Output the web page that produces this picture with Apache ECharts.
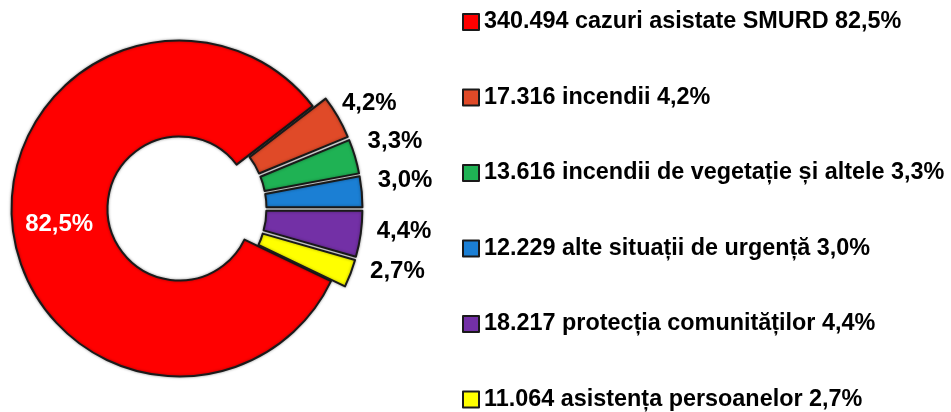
<!DOCTYPE html>
<html lang="ro">
<head>
    <meta charset="UTF-8">
    <title>Intervenții</title>
    <style>
        html, body { margin: 0; padding: 0; background: #fff; }
        #chart { width: 951px; height: 412px; }
    </style>
</head>
<body>
<div id="chart"></div>
<script src="https://cdn.jsdelivr.net/npm/echarts@6/dist/echarts.min.js"></script>
<script>
    // date
    var categorii = [
        'cazuri asistate SMURD',
        'incendii',
        'incendii de vegetație și altele',
        'alte situații de urgență',
        'protecția comunităților',
        'asistența persoanelor'
    ];
    var valori = [340494, 17316, 13616, 12229, 18217, 11064];

    // stil
    var culori = ['#ff0000', '#e04a28', '#1fb254', '#1b7fd4', '#7330a6', '#ffff00'];
    var deplasareEticheta = [[2, 3], [-8, -10], [0, -13], [3, -11], [3, -4], [7, -5]];

    var total = valori.reduce(function (a, b) { return a + b; }, 0);

    function procent(v) {
        return (v / total * 100).toFixed(1).replace('.', ',') + '%';
    }
    function numar(v) {
        return String(v).replace(/\B(?=(\d{3})+(?!\d))/g, '.');
    }

    var date = categorii.map(function (c, i) {
        var item = {
            name: c,
            value: valori[i],
            itemStyle: {color: culori[i]}
        };
        if (i === 0) {
            item.label = {position: 'inside', color: '#fff'};
        } else {
            item.selected = true;
        }
        return item;
    });

    var chart = echarts.init(document.getElementById('chart'));
    chart.setOption({
        animation: false,
        textStyle: {fontFamily: 'Liberation Sans'},
        legend: {
            orient: 'vertical',
            left: 462,
            top: 10,
            height: 412,
            padding: 0,
            itemGap: 51.5,
            itemWidth: 16,
            itemHeight: 16,
            icon: 'rect',
            selectedMode: false,
            textStyle: {fontSize: 23.4, fontWeight: 'bold', color: '#000', lineHeight: 24},
            formatter: function (name) {
                var i = categorii.indexOf(name);
                return numar(valori[i]) + ' ' + name + ' ' + procent(valori[i]);
            }
        },
        series: [{
            type: 'pie',
            center: [179.5, 208.5],
            radius: [72, 168],
            startAngle: -25.6,
            selectedMode: 'multiple',
            selectedOffset: 15,
            avoidLabelOverlap: false,
            itemStyle: {
                borderColor: '#1a1a1a',
                borderWidth: 2,
                shadowBlur: 3,
                shadowColor: 'rgba(0,0,0,0.35)'
            },
            emphasis: {disabled: true},
            label: {
                position: 'outside',
                fontSize: 24,
                fontWeight: 'bold',
                color: '#000',
                formatter: function (p) { return procent(p.value); }
            },
            labelLine: {show: false, length: 8, length2: 0},
            labelLayout: function (p) {
                var d = deplasareEticheta[p.dataIndex];
                return {dx: d[0], dy: d[1]};
            },
            data: date
        }]
    });
</script>
</body>
</html>
